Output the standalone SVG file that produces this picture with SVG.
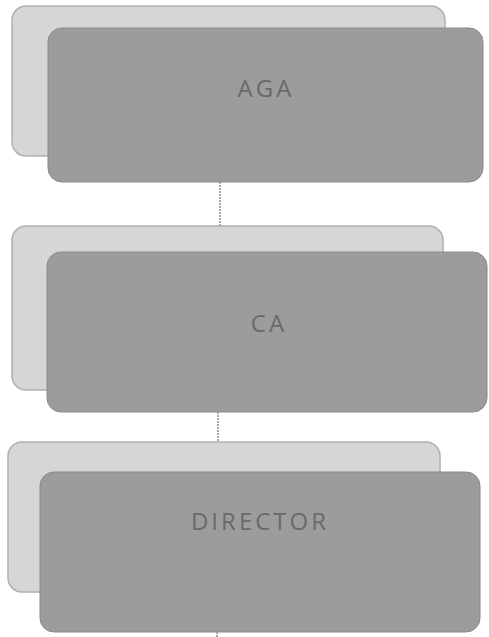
<svg xmlns="http://www.w3.org/2000/svg" width="489" height="637" viewBox="0 0 489 637">
<style>
.back{fill:#d6d6d6;stroke:#b0b0b0;stroke-width:1.5}
.front{fill:#9c9c9c;stroke:#8a8a8a;stroke-width:1}
.lbl{font-family:"Open Sans","Liberation Sans",sans-serif;font-size:24px;fill:#6a6a6a;text-anchor:middle;dominant-baseline:central;letter-spacing:3px}
.conn{stroke:#555;stroke-width:1;stroke-dasharray:2 1;fill:none}
</style>
<rect width="489" height="637" fill="#ffffff"/>
<g id="connectors">
<line class="conn" x1="220" y1="182" x2="220" y2="226"/>
<line class="conn" x1="218" y1="412" x2="218" y2="444"/>
<line class="conn" x1="217" y1="632" x2="217" y2="637"/>
</g>
<g id="node-aga">
<rect class="back" x="12" y="6" width="433" height="150" rx="14"/>
<rect class="front" x="48" y="28" width="435" height="154" rx="14"/>
<text class="lbl" x="266" y="87">AGA</text>
</g>
<g id="node-ca">
<rect class="back" x="12" y="226" width="431" height="164" rx="14"/>
<rect class="front" x="47" y="252" width="440" height="160" rx="14"/>
<text class="lbl" x="269" y="322">CA</text>
</g>
<g id="node-director">
<rect class="back" x="8" y="442" width="432" height="150" rx="14"/>
<rect class="front" x="40" y="472" width="440" height="160" rx="14"/>
<text class="lbl" x="260" y="520">DIRECTOR</text>
</g>
</svg>
